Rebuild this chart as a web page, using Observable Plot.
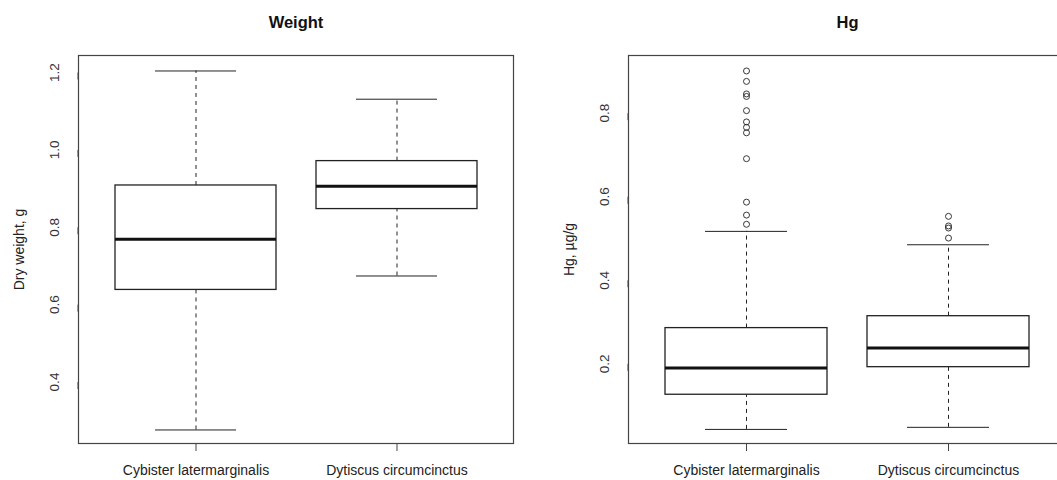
<!DOCTYPE html>
<html>
<head>
<meta charset="utf-8">
<script src="https://cdn.jsdelivr.net/npm/d3@7"></script>
<script src="https://cdn.jsdelivr.net/npm/@observablehq/plot@0.6"></script>
<style>
  html, body { margin: 0; padding: 0; background: #fff; }
  #wrap { position: relative; width: 1057px; height: 480px; overflow: hidden; background: #fff; }
  #wrap > div { position: absolute; top: 0; width: 560px; }
  svg { font-family: "Liberation Sans", Arial, sans-serif; max-width: none !important; }
</style>
</head>
<body>
<div id="wrap"><div id="left" style="left:0"></div><div id="right" style="left:530px"></div></div>
<script>
// categories
const species = ["Cybister latermarginalis", "Dytiscus circumcinctus"];

// Weight panel (dry weight, g): box statistics per species
const weightLow = [0.276, 0.674];
const weightQ1 = [0.638, 0.847];
const weightMedian = [0.769, 0.906];
const weightQ3 = [0.908, 0.971];
const weightHigh = [1.204, 1.131];
const weightTicks = [0.4, 0.6, 0.8, 1.0, 1.2];

// Hg panel (µg/g): box statistics per species
const hgLow = [0.043, 0.048];
const hgQ1 = [0.126, 0.192];
const hgMedian = [0.190, 0.238];
const hgQ3 = [0.2855, 0.314];
const hgHigh = [0.517, 0.485];
const hgOutliersCybister = [0.534, 0.556, 0.587, 0.691, 0.753, 0.766, 0.779, 0.806, 0.840, 0.846, 0.876, 0.901];
const hgOutliersDytiscus = [0.501, 0.525, 0.530, 0.553];
const hgTicks = [0.2, 0.4, 0.6, 0.8];

function panel({title, ylabel, low, q1, med, q3, high, outliers, ticks, yDomain, width, marginLeft}) {
  const stats = species.map((s, i) => ({species: s, low: low[i], q1: q1[i], med: med[i], q3: q3[i], high: high[i]}));
  const ink = "#222";
  return Plot.plot({
    width, height: 480,
    marginLeft, marginRight: 16, marginTop: 55, marginBottom: 37,
    style: {fontFamily: "'Liberation Sans', Arial, sans-serif", fontSize: "13px", color: ink, background: "#fff", maxWidth: "none"},
    x: {type: "band", domain: species, paddingInner: 0.2, paddingOuter: 0.18, label: null},
    y: {domain: yDomain, label: null},
    marks: [
      Plot.ruleX(stats, {x: "species", y1: "q3", y2: "high", stroke: ink, strokeDasharray: "4,4"}),
      Plot.ruleX(stats, {x: "species", y1: "low", y2: "q1", stroke: ink, strokeDasharray: "4,4"}),
      Plot.tickY(stats, {x: "species", y: "high", stroke: ink, insetLeft: 40, insetRight: 40}),
      Plot.tickY(stats, {x: "species", y: "low", stroke: ink, insetLeft: 40, insetRight: 40}),
      Plot.barY(stats, {x: "species", y1: "q1", y2: "q3", fill: "white", stroke: ink, strokeWidth: 1.3}),
      Plot.tickY(stats, {x: "species", y: "med", stroke: "#111", strokeWidth: 3}),
      Plot.dot(outliers, {x: "species", y: "value", r: 3, stroke: ink, fill: "none", strokeWidth: 0.9}),
      Plot.frame({stroke: "#444", strokeWidth: 1.2}),
      Plot.axisY({ticks, tickFormat: ".1f", tickSize: 7, tickPadding: 17, rotate: -90, textAnchor: "middle", stroke: "#444", fill: "#333", fontSize: 13.5, label: null}),
      Plot.axisX({tickSize: 8, tickPadding: 14, stroke: "#444", fill: "#222", fontSize: 14, label: null}),
      Plot.text([title], {frameAnchor: "top", dy: -33, textAnchor: "middle", lineAnchor: "middle", fontWeight: "bold", fontSize: 16.5, fill: "#111"}),
      Plot.text([ylabel], {frameAnchor: "left", dx: -59, rotate: -90, textAnchor: "middle", lineAnchor: "middle", fontSize: 14, fill: ink})
    ]
  });
}

const noOutliers = [];
const hgOutliers = [
  ...hgOutliersCybister.map(v => ({species: species[0], value: v})),
  ...hgOutliersDytiscus.map(v => ({species: species[1], value: v}))
];

document.getElementById("left").append(panel({
  title: "Weight", ylabel: "Dry weight, g",
  low: weightLow, q1: weightQ1, med: weightMedian, q3: weightQ3, high: weightHigh,
  outliers: noOutliers, ticks: weightTicks, yDomain: [0.241, 1.244],
  width: 529, marginLeft: 78
}));
document.getElementById("right").append(panel({
  title: "Hg", ylabel: "Hg, µg/g",
  low: hgLow, q1: hgQ1, med: hgMedian, q3: hgQ3, high: hgHigh,
  outliers: hgOutliers, ticks: hgTicks, yDomain: [0.0093, 0.938],
  width: 552, marginLeft: 98
}));
</script>
</body>
</html>
